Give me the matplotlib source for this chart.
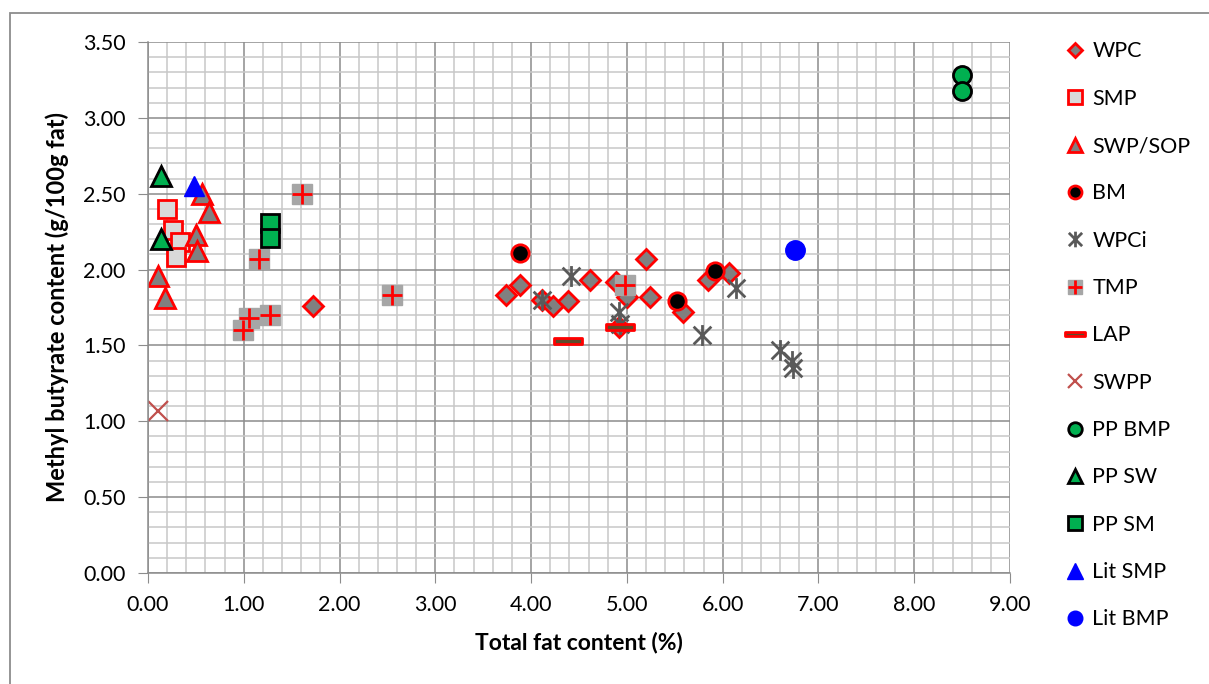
import matplotlib.pyplot as plt
import numpy as np
from matplotlib.path import Path
from matplotlib.patches import Rectangle
from matplotlib.ticker import MultipleLocator, FormatStrFormatter

plt.rcParams["font.family"] = ["Lato", "DejaVu Sans"]

# data (total fat %, methyl butyrate g/100g fat)
wpc_x = [1.72, 3.74, 3.88, 4.11, 4.23, 4.38, 4.61, 4.89, 5.00, 4.92, 5.20, 5.24, 5.59, 5.85, 6.07]
wpc_y = [1.76, 1.83, 1.90, 1.80, 1.76, 1.79, 1.93, 1.92, 1.82, 1.62, 2.07, 1.82, 1.72, 1.93, 1.98]
smp_x = [0.20, 0.26, 0.33, 0.29]
smp_y = [2.40, 2.26, 2.18, 2.08]
swp_x = [0.56, 0.64, 0.50, 0.51, 0.10, 0.18]
swp_y = [2.50, 2.38, 2.23, 2.12, 1.96, 1.81]
bm_x = [3.88, 5.52, 5.92]
bm_y = [2.11, 1.79, 1.99]
wpci_x = [4.11, 4.42, 4.92, 4.93, 5.78, 6.14, 6.60, 6.72, 6.73]
wpci_y = [1.80, 1.96, 1.72, 1.64, 1.57, 1.88, 1.47, 1.40, 1.35]
tmp_x = [1.61, 1.16, 1.27, 1.05, 0.99, 2.55, 4.98]
tmp_y = [2.50, 2.07, 1.70, 1.68, 1.60, 1.83, 1.90]
lap_x = [4.38, 4.93]
lap_y = [1.53, 1.62]
swpp_x = [0.10]
swpp_y = [1.07]
ppbmp_x = [8.50, 8.50]
ppbmp_y = [3.28, 3.18]
ppsw_x = [0.14, 0.14]
ppsw_y = [2.62, 2.20]
ppsm_x = [1.27, 1.27]
ppsm_y = [2.31, 2.21]
litsmp_x = [0.48]
litsmp_y = [2.55]
litbmp_x = [6.75]
litbmp_y = [2.13]

RED = "#FF0000"
GREEN = "#00B050"

asterisk = Path(
    [(0, -1), (0, 1), (-0.85, -0.85), (0.85, 0.85), (-0.85, 0.85), (0.85, -0.85)],
    [Path.MOVETO, Path.LINETO, Path.MOVETO, Path.LINETO, Path.MOVETO, Path.LINETO],
)
bar = Path(
    [(-1, -0.22), (1, -0.22), (1, 0.22), (-1, 0.22), (-1, -0.22)],
    [Path.MOVETO, Path.LINETO, Path.LINETO, Path.LINETO, Path.CLOSEPOLY],
)

fig = plt.figure(figsize=(12.09, 6.84), dpi=100)
ax = fig.add_axes([148 / 1209, 1 - 573 / 684, (1010 - 148) / 1209, (573 - 42) / 684])

fig.patches.append(
    Rectangle((10 / 1209, -0.1), 1.2, 0.1 + 1 - 13 / 684, transform=fig.transFigure,
              fill=False, edgecolor="#8c8c8c", linewidth=1.3)
)

kw = dict(linestyle="none")
h_wpc, = ax.plot(wpc_x, wpc_y, marker="D", ms=10, mfc="#808080", mec=RED, mew=2, **kw)
h_smp, = ax.plot(smp_x, smp_y, marker="s", ms=13, mfc="#D9D9D9", mec=RED, mew=2, **kw)
h_swp, = ax.plot(swp_x, swp_y, marker="^", ms=14, mfc="#808080", mec=RED, mew=2, **kw)
h_bm, = ax.plot(bm_x, bm_y, marker="o", ms=12.5, mfc="black", mec=RED, mew=2, **kw)
h_wpci, = ax.plot(wpci_x, wpci_y, marker=asterisk, ms=15, mfc="none", mec="#595959", mew=2, **kw)
h_tmp_sq, = ax.plot(tmp_x, tmp_y, marker="s", ms=14, mfc="#A6A6A6", mec="#A6A6A6", mew=1, **kw)
h_tmp_pl, = ax.plot(tmp_x, tmp_y, marker="+", ms=14, mec=RED, mew=2, **kw)
h_lap, = ax.plot(lap_x, lap_y, marker=bar, ms=20, mfc="#5E4B2B", mec=RED, mew=2, **kw)
h_swpp, = ax.plot(swpp_x, swpp_y, marker="x", ms=14, mec="#C0504D", mew=1.6, **kw)
h_ppbmp, = ax.plot(ppbmp_x, ppbmp_y, marker="o", ms=13, mfc=GREEN, mec="black", mew=2, **kw)
h_ppsw, = ax.plot(ppsw_x, ppsw_y, marker="^", ms=14, mfc=GREEN, mec="black", mew=2, **kw)
h_ppsm, = ax.plot(ppsm_x, ppsm_y, marker="s", ms=13, mfc=GREEN, mec="black", mew=2, **kw)
h_litsmp, = ax.plot(litsmp_x, litsmp_y, marker="^", ms=15, mfc="#0000FF", mec="#0000FF", mew=1, **kw)
h_litbmp, = ax.plot(litbmp_x, litbmp_y, marker="o", ms=14, mfc="#0000FF", mec="#0000FF", mew=1, **kw)

ax.set_xlim(0, 9)
ax.set_ylim(0, 3.5)
ax.xaxis.set_major_locator(MultipleLocator(1))
ax.xaxis.set_minor_locator(MultipleLocator(0.2))
ax.yaxis.set_major_locator(MultipleLocator(0.5))
ax.yaxis.set_minor_locator(MultipleLocator(0.1))
ax.xaxis.set_major_formatter(FormatStrFormatter("%.2f"))
ax.yaxis.set_major_formatter(FormatStrFormatter("%.2f"))
ax.grid(which="major", color="#8c8c8c", linewidth=1.1)
ax.grid(which="minor", color="#c8c8c8", linewidth=1.1)
ax.set_axisbelow(True)
for side in ("top", "right"):
    ax.spines[side].set_visible(False)
for side in ("left", "bottom"):
    ax.spines[side].set_color("#8c8c8c")
    ax.spines[side].set_linewidth(1.1)
ax.tick_params(which="major", length=7, color="#8c8c8c", labelsize=15.5, pad=9)
ax.tick_params(which="minor", length=0)

ax.set_xlabel("Total fat content (%)", fontsize=16.5, fontweight="bold", labelpad=12)
ax.set_ylabel("Methyl butyrate content (g/100g fat)", fontsize=17, fontweight="bold", labelpad=10)

handles = [h_wpc, h_smp, h_swp, h_bm, h_wpci, (h_tmp_sq, h_tmp_pl), h_lap, h_swpp,
           h_ppbmp, h_ppsw, h_ppsm, h_litsmp, h_litbmp]
labels = ["WPC", "SMP", "SWP/SOP", "BM", "WPCi", "TMP", "LAP", "SWPP",
          "PP BMP", "PP SW", "PP SM", "Lit SMP", "Lit BMP"]
fig.legend(handles, labels, loc="upper left", bbox_to_anchor=(1045 / 1209, 1 - 22 / 684),
           frameon=False, fontsize=15.5, markerscale=0.75, handlelength=1.0,
           handletextpad=0.3, labelspacing=1.27)

fig.savefig("out.png", dpi=100)
